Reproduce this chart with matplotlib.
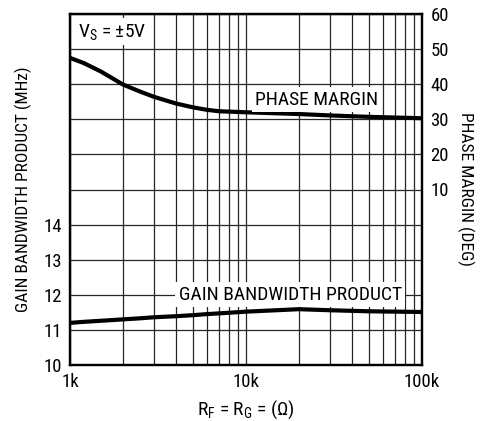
import matplotlib
matplotlib.use("Agg")
import matplotlib.pyplot as plt

plt.rcParams['font.family'] = ['Roboto Condensed', 'DejaVu Sans']
plt.rcParams['mathtext.fontset'] = 'custom'
plt.rcParams['mathtext.rm'] = 'Roboto Condensed'
plt.rcParams['mathtext.default'] = 'regular'

# data
rf = [1000, 1200, 1500, 2000, 2500, 3000, 4000, 5000, 6000, 7000, 10000, 20000, 30000, 50000, 100000]
phase = [47.5, 46.0, 43.6, 39.9, 37.9, 36.4, 34.5, 33.4, 32.7, 32.3, 32.0, 31.5, 31.1, 30.7, 30.3]
gbw = [11.2, 11.23, 11.26, 11.3, 11.33, 11.36, 11.39, 11.42, 11.45, 11.47, 11.52, 11.59, 11.56, 11.53, 11.51]

left_ticks = [10, 11, 12, 13, 14, 15, 16, 17, 18, 19, 20]
left_labels = ['10', '11', '12', '13', '14', '', '', '', '', '', '']
right_ticks = [10, 20, 30, 40, 50, 60]
x_ticks = [1000, 10000, 100000]
x_labels = ['1k', '10k', '100k']
x_minor = [m * d for d in [1000, 10000] for m in range(2, 10)]

fig = plt.figure(figsize=(4.92, 4.21), dpi=100)
ax = fig.add_axes([70/492, 56/421, 352/492, 351/421])
ax.set_xscale('log')
ax.set_xlim(1000, 100000)
ax.set_ylim(10, 20)
ax.set_xticks(x_ticks)
ax.set_xticklabels(x_labels)
ax.set_xticks(x_minor, minor=True)
ax.set_xticklabels([], minor=True)
ax.set_yticks(left_ticks)
ax.set_yticklabels(left_labels)
ax.grid(True, which='both', color='0.15', lw=0.9)
ax.tick_params(which='both', length=0, labelsize=13.5, pad=6)
for s in ax.spines.values():
    s.set_linewidth(1.6)
ax.plot(rf, gbw, color='black', lw=3, solid_capstyle='butt')
ax.set_ylabel('GAIN BANDWIDTH PRODUCT (MHz)', fontsize=12.5, labelpad=8)
ax.set_xlabel('R$_F$ = R$_G$ = (Ω)', fontsize=14, labelpad=5)

ax2 = ax.twinx()
ax2.set_ylim(-40, 60)
ax2.set_yticks(right_ticks)
ax2.set_yticklabels([str(t) for t in right_ticks])
ax2.tick_params(length=0, labelsize=13.5, pad=6)
for s in ax2.spines.values():
    s.set_linewidth(1.6)
ax2.plot(rf, phase, color='black', lw=3, solid_capstyle='butt')
ax2.set_ylabel('PHASE MARGIN (DEG)', fontsize=12.5, rotation=-90, labelpad=18)

box = dict(facecolor='white', edgecolor='none', pad=2.5)
ax2.text(1110, 19.5, 'V$_S$ = ±5V', fontsize=14, ha='left', va='center',
         transform=ax.transData, bbox=box)
ax2.text(25300, 17.55, 'PHASE MARGIN', fontsize=14, ha='center', va='center',
         transform=ax.transData, bbox=box)
ax2.text(17800, 12.0, 'GAIN BANDWIDTH PRODUCT', fontsize=14, ha='center', va='center',
         transform=ax.transData, bbox=box)

fig.savefig('out.png', dpi=100)
